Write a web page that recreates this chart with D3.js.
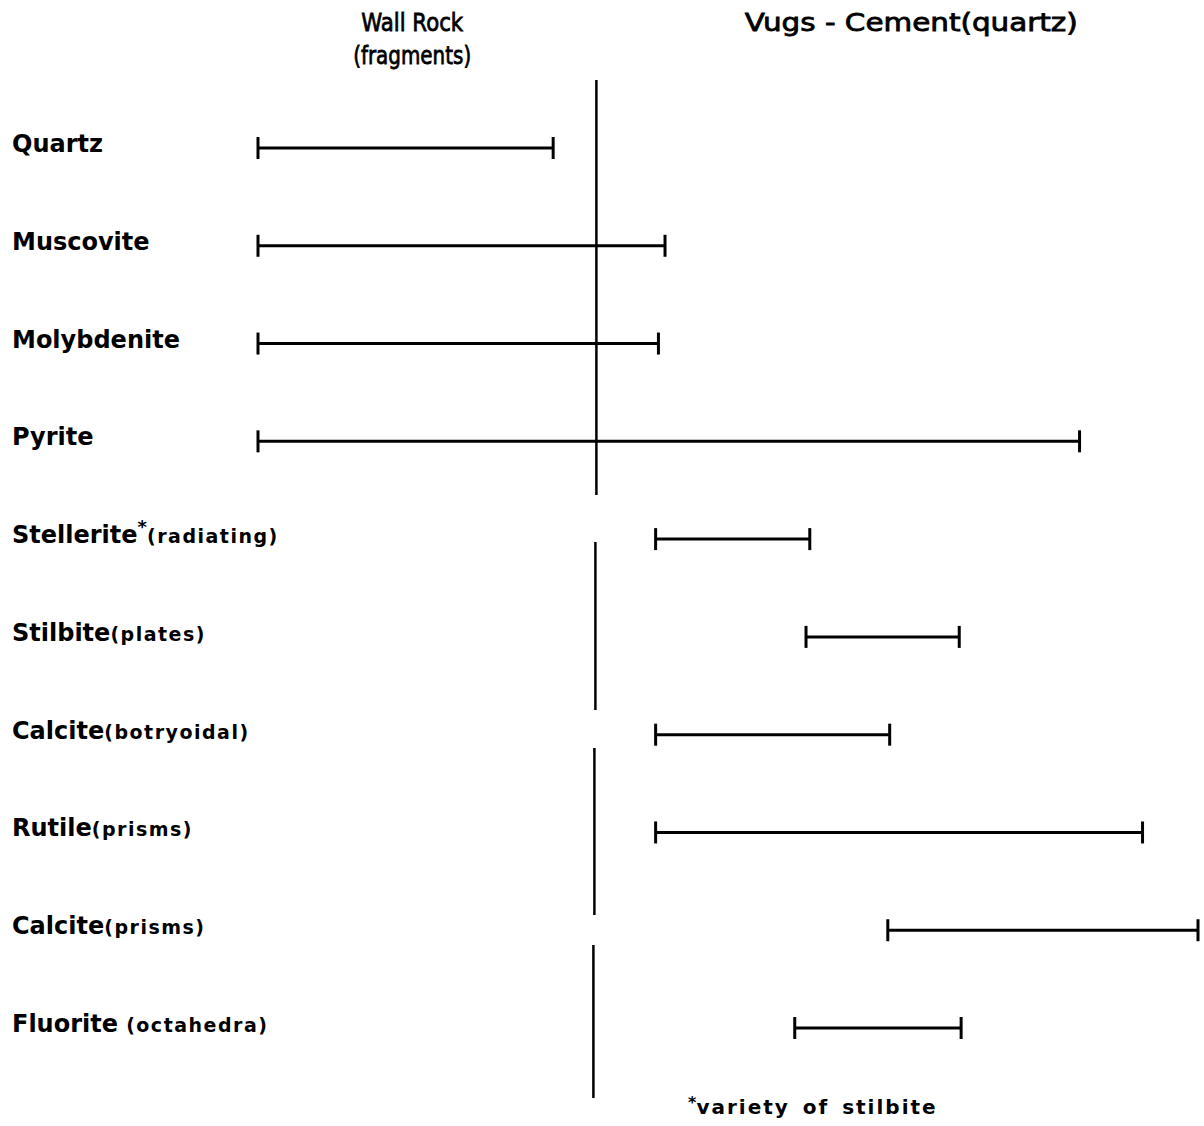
<!DOCTYPE html>
<html>
<head>
<meta charset="utf-8">
<script src="https://cdn.jsdelivr.net/npm/d3@7"></script>
<style>
  body { margin: 0; background: #fff; }
  text { font-family: "DejaVu Sans", sans-serif; fill: #000; }
</style>
</head>
<body>
<div id="chart"></div>
<script>
// minerals (top to bottom), main name + habit in brackets
const minerals = ["Quartz", "Muscovite", "Molybdenite", "Pyrite", "Stellerite", "Stilbite",
  "Calcite", "Rutile", "Calcite", "Fluorite"];
const habits = ["", "", "", "", "(radiating)", "(plates)", "(botryoidal)", "(prisms)", "(prisms)", " (octahedra)"];
const starred = [false, false, false, false, true, false, false, false, false, false];

// relative time of deposition (0 = earliest wall rock, 10 = latest vug filling)
const startT = [0, 0, 0, 0, 4.23, 5.83, 4.23, 4.23, 6.70, 5.71];
const endT   = [3.14, 4.33, 4.26, 8.74, 5.87, 7.46, 6.72, 9.41, 10, 7.48];

// boundary between wall rock and vug cement, drawn in pieces
const dividerT = 3.6;
const dividerRuns = [[80, 495], [542, 710], [748, 915], [945, 1098]];

const headers = [
  {lines: ["Wall Rock", "(fragments)"], len: [102, 118], t: 1.64},
  {lines: ["Vugs - Cement(quartz)"], len: [333], t: 6.95}
];
const footnote = "variety of stilbite";

const width = 1204, height = 1126;

const svg = d3.select("#chart")
  .append("svg")
    .attr("width", width)
    .attr("height", height);

const x = d3.scaleLinear()
  .domain([0, 10])
  .range([258, 1198]);

const y = d3.scalePoint()
  .domain(d3.range(minerals.length))
  .range([148, 1028]);

// headers
headers.forEach(h => {
  h.lines.forEach((l, i) => {
    svg.append("text")
      .attr("x", x(h.t) - h.len[i] / 2)
      .attr("y", 31 + i * 33)
      .attr("textLength", h.len[i])
      .attr("lengthAdjust", "spacingAndGlyphs")
      .style("font-size", "25px")
      .style("stroke", "#000")
      .style("stroke-width", 0.8)
      .text(l);
  });
});

// divider segments
svg.selectAll(".divider")
  .data(dividerRuns)
  .join("line")
    .attr("class", "divider")
    .attr("x1", (d, i) => x(dividerT) - i * 1)
    .attr("x2", (d, i) => x(dividerT) - i * 1)
    .attr("y1", d => d[0])
    .attr("y2", d => d[1])
    .style("stroke", "#000")
    .style("stroke-width", 2.5);

// labels
const labels = svg.selectAll(".label")
  .data(minerals)
  .join("text")
    .attr("class", "label")
    .attr("x", 12)
    .attr("y", (d, i) => y(i) + 4)
    .attr("xml:space", "preserve")
    .style("font-size", "24px")
    .style("font-weight", "bold");
labels.append("tspan").text(d => d);
labels.append("tspan")
  .attr("dy", "-10")
  .style("font-size", "18px")
  .text((d, i) => starred[i] ? "*" : "");
labels.append("tspan")
  .attr("dy", (d, i) => starred[i] ? "10" : "0")
  .style("font-size", "19px")
  .style("letter-spacing", "1.5px")
  .text((d, i) => habits[i]);

// range bars
const bars = svg.selectAll(".bar")
  .data(minerals.map((m, i) => ({i, s: startT[i], e: endT[i]})))
  .join("g")
    .attr("class", "bar");
bars.append("line")
  .attr("x1", d => x(d.s)).attr("x2", d => x(d.e))
  .attr("y1", d => y(d.i)).attr("y2", d => y(d.i))
  .style("stroke", "#000").style("stroke-width", 3);
bars.append("line")
  .attr("x1", d => x(d.s)).attr("x2", d => x(d.s))
  .attr("y1", d => y(d.i) - 11).attr("y2", d => y(d.i) + 11)
  .style("stroke", "#000").style("stroke-width", 3);
bars.append("line")
  .attr("x1", d => x(d.e)).attr("x2", d => x(d.e))
  .attr("y1", d => y(d.i) - 11).attr("y2", d => y(d.i) + 11)
  .style("stroke", "#000").style("stroke-width", 3);

// footnote
const fn = svg.append("text")
  .attr("x", 688)
  .attr("y", 1114)
  .style("font-size", "20px")
  .style("font-weight", "bold");
fn.append("tspan")
  .attr("dy", -6)
  .style("font-size", "16px")
  .text("*");
fn.append("tspan")
  .attr("dy", 6)
  .style("letter-spacing", "2px")
  .style("word-spacing", "4px")
  .text(footnote);
</script>
</body>
</html>
